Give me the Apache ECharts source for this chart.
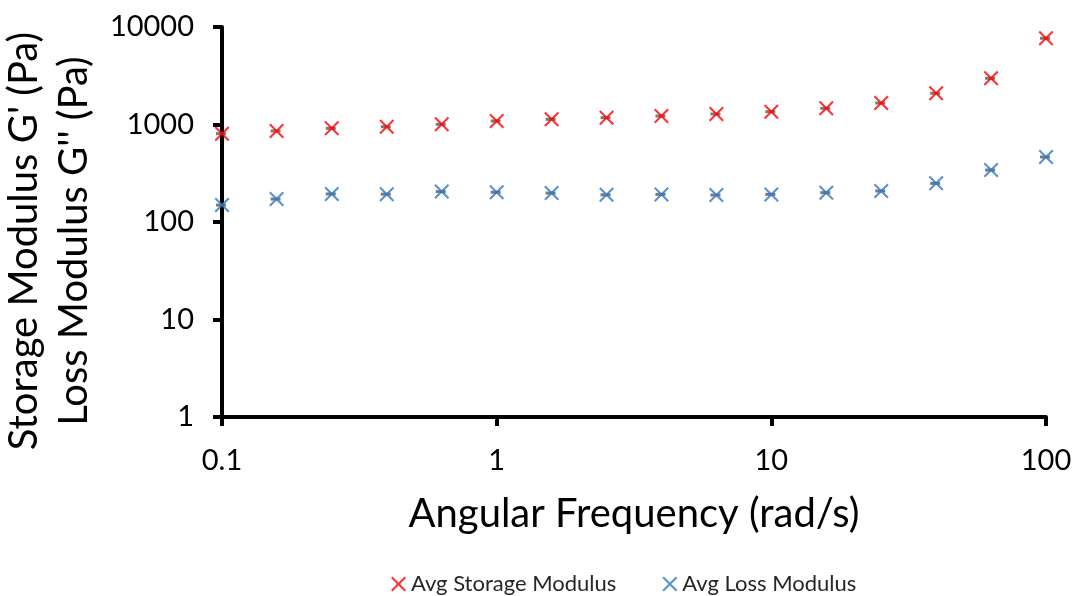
<!DOCTYPE html>
<html>
<head>
<meta charset="utf-8">
<script src="https://cdn.jsdelivr.net/npm/echarts@6/dist/echarts.min.js"></script>
<style>
  html, body { margin: 0; padding: 0; background: #fff; }
  #chart { width: 1073px; height: 596px; }
</style>
</head>
<body>
<div id="chart"></div>
<script>
// angular frequency (rad/s), 5 points per decade
const frequency = [0.1, 0.158, 0.251, 0.398, 0.631, 1, 1.585, 2.512, 3.981, 6.31, 10, 15.85, 25.12, 39.81, 63.1, 100];
// G' and G'' in Pa
const storageModulus = [805, 858, 914, 949, 1005, 1086, 1131, 1175, 1222, 1282, 1353, 1466, 1662, 2089, 2978, 7660];
const lossModulus = [149, 172, 194, 193, 205, 202, 198, 190, 192, 189, 192, 200, 208, 249, 341, 464];

const seriesNames = ['Avg Storage Modulus', 'Avg Loss Modulus'];
const xTitle = 'Angular Frequency (rad/s)';
const yTitle = "Storage Modulus G' (Pa)\nLoss Modulus G'' (Pa)";

const FONT = 'Lato';
const RED = '#ff0000';
const BLUE = '#2f78c4';
const CROSS = 'path://M0,1L1,0L5,4L9,0L10,1L6,5L10,9L9,10L5,6L1,10L0,9L4,5Z';

const pairs = (ys) => frequency.map((f, i) => [f, ys[i]]);
const fmt = (v) => String(+Number(v).toPrecision(4));

const myChart = echarts.init(document.getElementById('chart'));

const axisCommon = {
  type: 'log',
  logBase: 10,
  axisLine: { lineStyle: { color: '#000', width: 4 } },
  axisTick: { show: true, inside: false, length: 9, lineStyle: { color: '#000', width: 4 } },
  minorTick: { show: false },
  splitLine: { show: false },
};

myChart.setOption({
  animation: false,
  backgroundColor: '#fff',
  textStyle: { fontFamily: FONT },
  grid: { left: 222, right: 27, top: 27, bottom: 179, containLabel: false, outerBoundsMode: 'none' },
  legend: {
    data: seriesNames,
    top: 568,
    left: 386,
    itemGap: 46,
    itemWidth: 15,
    itemHeight: 15,
    textStyle: { fontFamily: FONT, fontSize: 22, color: '#262626' },
  },
  xAxis: Object.assign({}, axisCommon, {
    min: 0.1,
    max: 100,
    axisLabel: { fontFamily: FONT, fontSize: 29, color: '#000', margin: 29, formatter: fmt },
    name: xTitle,
    nameLocation: 'middle',
    nameGap: 77,
    nameTextStyle: { fontFamily: FONT, fontSize: 40, color: '#000' },
  }),
  yAxis: Object.assign({}, axisCommon, {
    min: 1,
    max: 10000,
    axisLabel: { fontFamily: FONT, fontSize: 29, color: '#000', margin: 28, formatter: fmt },
    name: yTitle,
    nameLocation: 'middle',
    nameGap: 121,
    // right padding pushes the rotated title a bit lower, as in the original
    nameTextStyle: { fontFamily: FONT, fontSize: 40, color: '#000', lineHeight: 50, padding: [0, 38, 0, 0] },
  }),
  series: [
    // small grey dashes that sit under each marker in the original
    {
      name: 'bars-storage',
      type: 'scatter',
      data: pairs(storageModulus),
      symbol: 'rect',
      symbolSize: [10, 3],
      symbolOffset: [-1, 0],
      itemStyle: { color: '#595959' },
      z: 1,
      silent: true,
    },
    {
      name: 'bars-loss',
      type: 'scatter',
      data: pairs(lossModulus),
      symbol: 'rect',
      symbolSize: [10, 3],
      symbolOffset: [-1, 0],
      itemStyle: { color: '#595959' },
      z: 1,
      silent: true,
    },
    {
      name: seriesNames[0],
      type: 'scatter',
      data: pairs(storageModulus),
      symbol: CROSS,
      symbolSize: 15,
      itemStyle: { color: RED },
      z: 3,
    },
    {
      name: seriesNames[1],
      type: 'scatter',
      data: pairs(lossModulus),
      symbol: CROSS,
      symbolSize: 15,
      itemStyle: { color: BLUE },
      z: 3,
    },
  ],
});
</script>
</body>
</html>
